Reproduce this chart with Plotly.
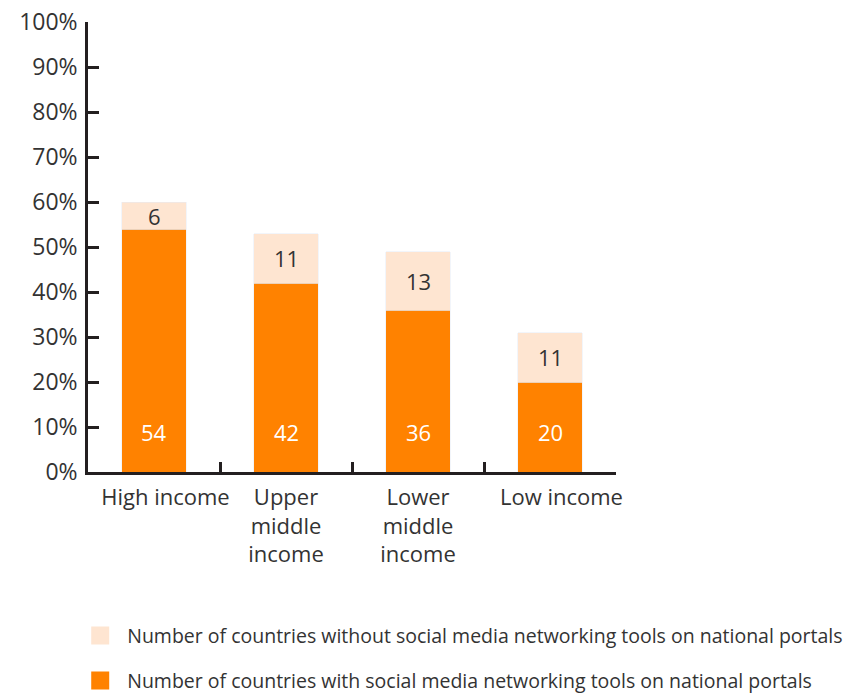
import plotly.graph_objects as go

# Share of countries per income group (percent of countries in each group)
categories = ["\u00a0\u00a0\u00a0\u00a0High income", "Upper<br>middle<br>income",
              "Lower<br>middle<br>income", "\u00a0\u00a0\u00a0\u00a0Low income"]
with_tools = [54, 42, 36, 20]
without_tools = [6, 11, 13, 11]
tick_values = [0, 10, 20, 30, 40, 50, 60, 70, 80, 90, 100]
tick_labels = [f"{v}%" for v in tick_values]

name_with = "Number of countries with social media networking tools on national portals"
name_without = "Number of countries without social media networking tools on national portals"

ORANGE = "#FF8200"
PEACH = "#FEE5D1"
TEXT = "#333333"
AXIS = "#231F20"
FONT = "Open Sans"

fig = go.Figure()
fig.add_trace(go.Bar(x=categories, y=with_tools, marker_color=ORANGE,
                     width=0.49, showlegend=False, hoverinfo="skip"))
fig.add_trace(go.Bar(x=categories, y=without_tools, marker_color=PEACH,
                     width=0.49, showlegend=False, hoverinfo="skip"))

# Legend entries (square swatches)
fig.add_trace(go.Scatter(x=[None], y=[None], mode="markers", name=name_without,
                         marker=dict(symbol="square", size=16, color=PEACH,
                                     line=dict(color=PEACH, width=2)),
                         legend="legend"))
fig.add_trace(go.Scatter(x=[None], y=[None], mode="markers", name=name_with,
                         marker=dict(symbol="square", size=16, color=ORANGE,
                                     line=dict(color=ORANGE, width=2)),
                         legend="legend2"))

# Value labels
for cat, w, wo in zip(categories, with_tools, without_tools):
    fig.add_annotation(x=cat, y=9, text=str(w), showarrow=False,
                       font=dict(family=FONT, size=22, color="white"))
    fig.add_annotation(x=cat, y=w + wo / 2, text=str(wo), showarrow=False,
                       font=dict(family=FONT, size=22, color=TEXT))

legend_style = dict(font=dict(family=FONT, size=19.5, color=TEXT),
                    bgcolor="rgba(0,0,0,0)", itemclick=False, itemwidth=44,
                    xanchor="left", yanchor="middle", x=-0.028)

fig.update_layout(
    barmode="stack",
    width=854, height=693,
    margin=dict(l=88, r=238, t=22, b=221, autoexpand=False),
    paper_bgcolor="white", plot_bgcolor="white",
    font=dict(family=FONT, size=22, color=TEXT),
    legend=dict(**legend_style, y=-0.364),
    legend2=dict(**legend_style, y=-0.464),
    xaxis=dict(showline=True, linecolor=AXIS, linewidth=2.5,
               ticks="inside", tickson="boundaries", ticklen=10,
               tickwidth=2.5, tickcolor=AXIS, showgrid=False,
               tickangle=0, automargin=False, ticklabelstandoff=4,
               tickfont=dict(family=FONT, size=22, color=TEXT),
               fixedrange=True),
    yaxis=dict(range=[0, 100], tickvals=tick_values, ticktext=tick_labels,
               showline=True, linecolor=AXIS, linewidth=2.5,
               ticks="inside", ticklen=11, tickwidth=2.5, tickcolor=AXIS,
               showgrid=False, zeroline=False, ticklabelstandoff=3,
               automargin=False,
               tickfont=dict(family=FONT, size=23, color=TEXT),
               fixedrange=True),
)

fig.write_html("out.html", config={"displayModeBar": False})
